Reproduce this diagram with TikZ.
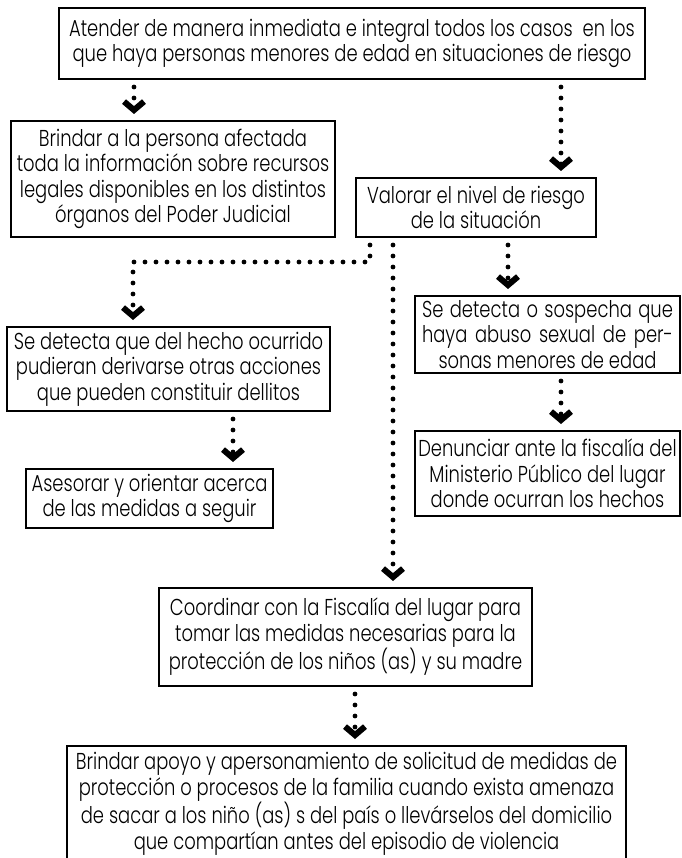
\documentclass[tikz,border=0pt]{standalone}
\usepackage{fontspec}
\setmainfont{Poppins}[UprightFont=* Light, FakeStretch=0.78]
\usetikzlibrary{arrows.meta}

\tikzset{
  caja/.style={draw, line width=2pt, inner sep=0pt, align=center,
    font=\fontsize{23}{25.5}\selectfont},
  flecha/.style={line width=4.8pt, line cap=round, dash pattern=on 0pt off 11pt,
    -{Straight Barb[length=8.5pt,width=20pt,line width=6pt]},
    shorten <=7pt, shorten >=6pt}
}

\begin{document}
\begin{tikzpicture}[x=1pt,y=-1pt]

      % page frame, the last box runs off the bottom edge
      \clip (0,0) rectangle (681,858);

      % columns of the dotted connectors
      \coordinate (colA) at (134,0);
      \coordinate (colB) at (561,0);
      \coordinate (colC) at (370,0);
      \coordinate (colD) at (393,0);
      \coordinate (colE) at (508,0);
      \coordinate (colF) at (233,0);
      \coordinate (colG) at (355,0);
      \coordinate (codo) at (133,262);

      \node[caja, minimum width=586, minimum height=71] (atender) at (352,43.5)
        {Atender de manera inmediata e integral todos los casos\ \ en los\\
         que haya personas menores de edad en situaciones de riesgo};

      \node[caja, minimum width=324, minimum height=116] (brindar) at (173,179)
        {Brindar a la persona afectada\\
         toda la información sobre recursos\\
         legales disponibles en los distintos\\
         órganos del Poder Judicial};

      \node[caja, minimum width=240, minimum height=59] (valorar) at (476,207.5)
        {Valorar el nivel de riesgo\\ de la situación};

      \node[caja, minimum width=265, minimum height=77] (sospecha) at (547.5,334.5)
        {\makebox[251pt][s]{Se detecta o sospecha que}\\
         \makebox[251pt][s]{haya abuso sexual de per-}\\
         sonas menores de edad};

      \node[caja, minimum width=265, minimum height=85] (denunciar) at (547.5,473.5)
        {Denunciar ante la fiscalía del\\
         Ministerio Público del lugar\\
         donde ocurran los hechos};

      \node[caja, minimum width=323, minimum height=84] (hecho) at (168.5,369)
        {Se detecta que del hecho ocurrido\\
         pudieran derivarse otras acciones\\
         que pueden constituir dellitos};

      \node[caja, minimum width=247, minimum height=59] (asesorar) at (149.5,498.5)
        {Asesorar y orientar acerca\\ de las medidas a seguir};

      \node[caja, minimum width=373, minimum height=98] (coordinar) at (345.5,637)
        {Coordinar con la Fiscalía del lugar para\\
         tomar las medidas necesarias para la\\
         protección de los niños (as) y su madre};

      \node[caja, minimum width=559, minimum height=116] (apoyo) at (346.5,804)
        {Brindar apoyo y apersonamiento de solicitud de medidas de\\
         protección o procesos de la familia cuando exista amenaza\\
         de sacar a los niño (as) s del país o llevárselos del domicilio\\
         que compartían antes del episodio de violencia};

      % dotted connectors
      \draw[flecha] (atender.south -| colA) -- (brindar.north -| colA);
      \draw[flecha] (atender.south -| colB) -- (valorar.north -| colB);
      \draw[flecha] (valorar.south -| colC) |- (codo) -- (hecho.north -| codo);
      \draw[flecha] (valorar.south -| colD) -- (coordinar.north -| colD);
      \draw[flecha] (valorar.south -| colE) -- (sospecha.north -| colE);
      \draw[flecha] (sospecha.south -| colB) -- (denunciar.north -| colB);
      \draw[flecha] (hecho.south -| colF) -- (asesorar.north -| colF);
      \draw[flecha] (coordinar.south -| colG) -- (apoyo.north -| colG);

    \end{tikzpicture}
\end{document}
